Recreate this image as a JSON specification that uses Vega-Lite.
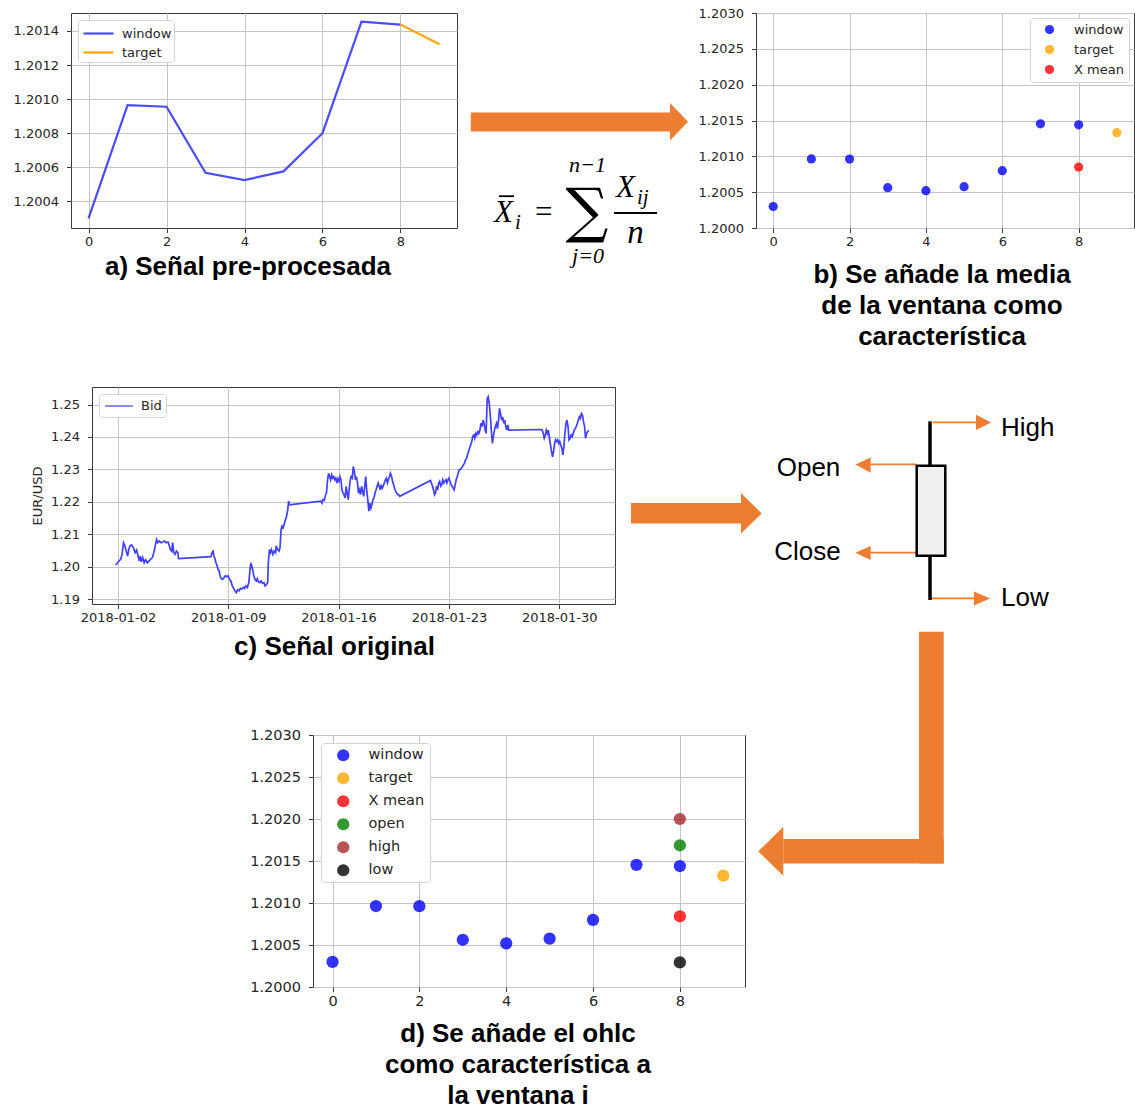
{
  "$schema": "https://vega.github.io/schema/vega-lite/v6.json",
  "padding": {"left": 0, "top": 6, "right": 0, "bottom": 0},
  "background": "white",
  "spacing": 0,
  "resolve": {"scale": {"color": "independent", "x": "independent", "y": "independent"}, "legend": {"color": "independent"}},
  "config": {
    "view": {"stroke": "#3a3a3a", "strokeWidth": 1},
    "axis": {"labelFont": "DejaVu Sans", "labelFontSize": 13, "labelColor": "#262626", "tickColor": "#3a3a3a", "tickSize": 4.5, "domain": false, "gridColor": "#c4c4c4", "gridWidth": 1, "titleFont": "DejaVu Sans", "titleFontWeight": "normal", "titleFontSize": 13, "titleColor": "#262626"},
    "axisY": {"labelPadding": 8},
    "axisX": {"labelPadding": 3},
    "legend": {"labelFont": "DejaVu Sans", "labelFontSize": 13, "labelColor": "#262626", "fillColor": "white", "strokeColor": "#d4d4d4", "cornerRadius": 3, "padding": 5, "title": null},
    "title": {"orient": "bottom", "anchor": "middle", "frame": "group", "font": "Liberation Sans", "fontSize": 26, "fontWeight": "bold", "color": "#000000", "lineHeight": 31, "baseline": "top"}
  },
  "vconcat": [
    {
      "hconcat": [
        {"width": 71, "height": 1, "view": {"stroke": null}, "data": {"values": []}, "mark": "point", "encoding": {}},
        {
          "width": 386, "height": 215,
          "title": {"text": "a) Señal pre-procesada", "dx": -16, "offset": 5},
          "data": {"values": [
            {"t": 0, "price": 1.2003, "series": "window"},
            {"t": 1, "price": 1.200964, "series": "window"},
            {"t": 2, "price": 1.200955, "series": "window"},
            {"t": 3, "price": 1.200568, "series": "window"},
            {"t": 4, "price": 1.200525, "series": "window"},
            {"t": 5, "price": 1.200576, "series": "window"},
            {"t": 6, "price": 1.2008, "series": "window"},
            {"t": 7, "price": 1.201454, "series": "window"},
            {"t": 8, "price": 1.201437, "series": "window"},
            {"t": 8, "price": 1.201437, "series": "target"},
            {"t": 9, "price": 1.201322, "series": "target"}
          ]},
          "mark": {"type": "line", "strokeWidth": 2.2},
          "encoding": {
            "x": {"field": "t", "type": "quantitative", "scale": {"domain": [-0.45, 9.45], "nice": false, "zero": false}, "axis": {"values": [0, 2, 4, 6, 8], "format": "d", "title": null}},
            "y": {"field": "price", "type": "quantitative", "scale": {"domain": [1.200244, 1.201505], "nice": false, "zero": false}, "axis": {"values": [1.2004, 1.2006, 1.2008, 1.201, 1.2012, 1.2014], "format": ".4f", "title": null}},
            "color": {"field": "series", "type": "nominal", "scale": {"domain": ["window", "target"], "range": ["#4b4bff", "#ffa500"]},
              "legend": {"orient": "top-left", "offset": 7, "symbolType": "M-1.5,0H1.5", "symbolSize": 400, "symbolStrokeWidth": 2.2, "symbolOffset": 7, "labelOffset": 12, "rowPadding": 0, "padding": 2}}
          }
        },
        {
          "width": 299, "height": 373,
          "view": {"stroke": null},
          "encoding": {
            "x": {"field": "x", "type": "quantitative", "scale": {"domain": [457, 756], "nice": false, "zero": false}, "axis": null},
            "y": {"field": "y", "type": "quantitative", "scale": {"domain": [13.3, 386.3], "nice": false, "zero": false, "reverse": true}, "axis": null}
          },
          "layer": [
            {"data": {"values": [{"x": 470.8, "x2": 670, "y": 112.7, "y2": 131.7}]}, "mark": {"type": "rect", "color": "#ED7D31"}, "encoding": {"x2": {"field": "x2"}, "y2": {"field": "y2"}}},
            {"data": {"values": [{"id": "h", "x": 670, "y": 103.3, "y2": 140.7}, {"id": "h", "x": 688, "y": 122, "y2": 122}]}, "mark": {"type": "area", "color": "#ED7D31"}, "encoding": {"y2": {"field": "y2"}, "detail": {"field": "id"}}},
            {"data": {"values": [{"x": 499, "x2": 514, "y": 196.5, "y2": 196.5}, {"x": 614, "x2": 657, "y": 213.3, "y2": 213.3}]}, "mark": {"type": "rule", "color": "black", "strokeWidth": 1.8}, "encoding": {"x2": {"field": "x2"}, "y2": {"field": "y2"}}},
            {"data": {"values": [{"x": 494, "y": 222, "s": "X"}, {"x": 616, "y": 197, "s": "X"}]}, "mark": {"type": "text", "font": "Liberation Serif", "fontStyle": "italic", "fontSize": 31, "align": "left", "baseline": "alphabetic"}, "encoding": {"text": {"field": "s"}}},
            {"data": {"values": [{"x": 635.5, "y": 243, "s": "n"}]}, "mark": {"type": "text", "font": "Liberation Serif", "fontStyle": "italic", "fontSize": 33, "align": "center", "baseline": "alphabetic"}, "encoding": {"text": {"field": "s"}}},
            {"data": {"values": [{"x": 515, "y": 229, "s": "i"}, {"x": 637, "y": 204, "s": "ij"}]}, "mark": {"type": "text", "font": "Liberation Serif", "fontStyle": "italic", "fontSize": 21, "align": "left", "baseline": "alphabetic"}, "encoding": {"text": {"field": "s"}}},
            {"data": {"values": [{"x": 587.5, "y": 172, "s": "n−1"}, {"x": 588, "y": 263, "s": "j=0"}]}, "mark": {"type": "text", "font": "Liberation Serif", "fontStyle": "italic", "fontSize": 22, "align": "center", "baseline": "alphabetic"}, "encoding": {"text": {"field": "s"}}},
            {"data": {"values": [{"x": 535, "y": 222, "s": "="}]}, "mark": {"type": "text", "font": "Liberation Serif", "fontSize": 31, "align": "left", "baseline": "alphabetic"}, "encoding": {"text": {"field": "s"}}},
            {"data": {"values": [{"x": 587, "y": 231, "s": "∑"}]}, "mark": {"type": "text", "font": "DejaVu Serif", "fontSize": 60, "align": "center", "baseline": "alphabetic"}, "encoding": {"text": {"field": "s"}}}
          ]
        },
        {
          "width": 378, "height": 215,
          "title": {"text": ["b) Se añade la media", "de la ventana como", "característica"], "dx": -3, "offset": 13},
          "data": {"values": [
            {"t": 0, "price": 1.2003, "series": "window"},
            {"t": 1, "price": 1.200964, "series": "window"},
            {"t": 2, "price": 1.200962, "series": "window"},
            {"t": 3, "price": 1.200562, "series": "window"},
            {"t": 4, "price": 1.20052, "series": "window"},
            {"t": 5, "price": 1.200576, "series": "window"},
            {"t": 6, "price": 1.2008, "series": "window"},
            {"t": 7, "price": 1.201454, "series": "window"},
            {"t": 8, "price": 1.20144, "series": "window"},
            {"t": 9, "price": 1.20133, "series": "target"},
            {"t": 8, "price": 1.20085, "series": "X mean"}
          ]},
          "mark": {"type": "point", "filled": true, "size": 85, "opacity": 0.8},
          "encoding": {
            "x": {"field": "t", "type": "quantitative", "scale": {"domain": [-0.45, 9.45], "nice": false, "zero": false}, "axis": {"values": [0, 2, 4, 6, 8], "format": "d", "title": null}},
            "y": {"field": "price", "type": "quantitative", "scale": {"domain": [1.2, 1.203], "nice": false, "zero": false}, "axis": {"values": [1.2, 1.2005, 1.201, 1.2015, 1.202, 1.2025, 1.203], "format": ".4f", "title": null}},
            "color": {"field": "series", "type": "nominal", "scale": {"domain": ["window", "target", "X mean"], "range": ["#0000ff", "#ffa500", "#ff0000"]},
              "legend": {"orient": "top-right", "offset": 5, "symbolType": "circle", "symbolSize": 85, "symbolOpacity": 0.8, "symbolOffset": 8, "labelOffset": 18, "rowPadding": 6, "padding": 5}}
          }
        }
      ],
      "spacing": 0,
      "bounds": "flush",
      "resolve": {"scale": {"color": "independent", "x": "independent", "y": "independent"}, "legend": {"color": "independent"}}
    },
    {
      "hconcat": [
        {"width": 92, "height": 1, "view": {"stroke": null}, "data": {"values": []}, "mark": "point", "encoding": {}},
        {
          "width": 523, "height": 217,
          "title": {"text": "c) Señal original", "dx": -19, "offset": 9},
          "data": {"values": [
            {"day": -0.15, "bid": 1.2005}, {"day": -0.04, "bid": 1.2012}, {"day": 0.07, "bid": 1.2018}, {"day": 0.17, "bid": 1.2023}, {"day": 0.26, "bid": 1.2038}, {"day": 0.35, "bid": 1.2074}, {"day": 0.44, "bid": 1.2064}, {"day": 0.52, "bid": 1.2048}, {"day": 0.61, "bid": 1.2033}, {"day": 0.68, "bid": 1.2053}, {"day": 0.76, "bid": 1.2064}, {"day": 0.87, "bid": 1.2067}, {"day": 0.98, "bid": 1.2058}, {"day": 1.09, "bid": 1.2043}, {"day": 1.18, "bid": 1.2051}, {"day": 1.27, "bid": 1.2033}, {"day": 1.35, "bid": 1.2018}, {"day": 1.42, "bid": 1.2033}, {"day": 1.48, "bid": 1.2015}, {"day": 1.57, "bid": 1.2028}, {"day": 1.66, "bid": 1.2012}, {"day": 1.75, "bid": 1.2021}, {"day": 1.86, "bid": 1.2012}, {"day": 1.97, "bid": 1.2018}, {"day": 2.07, "bid": 1.2023}, {"day": 2.18, "bid": 1.2028}, {"day": 2.27, "bid": 1.2043}, {"day": 2.36, "bid": 1.2064}, {"day": 2.45, "bid": 1.2084}, {"day": 2.53, "bid": 1.2074}, {"day": 2.62, "bid": 1.2079}, {"day": 2.73, "bid": 1.2074}, {"day": 2.84, "bid": 1.2076}, {"day": 2.95, "bid": 1.2079}, {"day": 3.06, "bid": 1.2074}, {"day": 3.17, "bid": 1.2076}, {"day": 3.23, "bid": 1.2069}, {"day": 3.32, "bid": 1.2053}, {"day": 3.41, "bid": 1.2048}, {"day": 3.47, "bid": 1.2074}, {"day": 3.54, "bid": 1.2043}, {"day": 3.62, "bid": 1.2038}, {"day": 3.71, "bid": 1.2048}, {"day": 3.8, "bid": 1.2043}, {"day": 3.84, "bid": 1.2025},
            {"day": 5.9, "bid": 1.2031}, {"day": 5.96, "bid": 1.2043}, {"day": 6.03, "bid": 1.2048}, {"day": 6.09, "bid": 1.2033}, {"day": 6.16, "bid": 1.2023}, {"day": 6.22, "bid": 1.2012}, {"day": 6.29, "bid": 1.2002}, {"day": 6.35, "bid": 1.1992}, {"day": 6.42, "bid": 1.1987}, {"day": 6.48, "bid": 1.1972}, {"day": 6.55, "bid": 1.1963}, {"day": 6.64, "bid": 1.1961}, {"day": 6.72, "bid": 1.1966}, {"day": 6.81, "bid": 1.1972}, {"day": 6.9, "bid": 1.1969}, {"day": 6.99, "bid": 1.1972}, {"day": 7.07, "bid": 1.1961}, {"day": 7.16, "bid": 1.1956}, {"day": 7.25, "bid": 1.1941}, {"day": 7.34, "bid": 1.1933}, {"day": 7.42, "bid": 1.1926}, {"day": 7.51, "bid": 1.192}, {"day": 7.6, "bid": 1.1929}, {"day": 7.69, "bid": 1.1926}, {"day": 7.77, "bid": 1.1933}, {"day": 7.86, "bid": 1.1931}, {"day": 7.95, "bid": 1.1936}, {"day": 8.03, "bid": 1.1933}, {"day": 8.12, "bid": 1.1941}, {"day": 8.21, "bid": 1.1936}, {"day": 8.3, "bid": 1.1951}, {"day": 8.36, "bid": 1.1982}, {"day": 8.43, "bid": 1.2012}, {"day": 8.49, "bid": 1.2002}, {"day": 8.56, "bid": 1.1987}, {"day": 8.62, "bid": 1.1972}, {"day": 8.69, "bid": 1.1961}, {"day": 8.78, "bid": 1.1956}, {"day": 8.84, "bid": 1.1963}, {"day": 8.91, "bid": 1.1953}, {"day": 9.0, "bid": 1.1951}, {"day": 9.08, "bid": 1.1956}, {"day": 9.17, "bid": 1.1949}, {"day": 9.26, "bid": 1.1951}, {"day": 9.34, "bid": 1.1941}, {"day": 9.43, "bid": 1.1946}, {"day": 9.5, "bid": 1.1951}, {"day": 9.54, "bid": 1.2012}, {"day": 9.61, "bid": 1.2053}, {"day": 9.67, "bid": 1.2043}, {"day": 9.74, "bid": 1.2053}, {"day": 9.83, "bid": 1.2038}, {"day": 9.91, "bid": 1.2048}, {"day": 10.0, "bid": 1.2043}, {"day": 10.04, "bid": 1.2064}, {"day": 10.13, "bid": 1.2053}, {"day": 10.22, "bid": 1.2048}, {"day": 10.28, "bid": 1.2058}, {"day": 10.35, "bid": 1.2115}, {"day": 10.41, "bid": 1.2125}, {"day": 10.48, "bid": 1.212}, {"day": 10.57, "bid": 1.2135}, {"day": 10.63, "bid": 1.2145}, {"day": 10.7, "bid": 1.2156}, {"day": 10.76, "bid": 1.2171}, {"day": 10.83, "bid": 1.2202}, {"day": 10.87, "bid": 1.2191},
            {"day": 12.88, "bid": 1.2202}, {"day": 12.95, "bid": 1.2196}, {"day": 13.01, "bid": 1.2207}, {"day": 13.1, "bid": 1.2205}, {"day": 13.17, "bid": 1.2222}, {"day": 13.23, "bid": 1.2227}, {"day": 13.3, "bid": 1.2268}, {"day": 13.36, "bid": 1.2288}, {"day": 13.43, "bid": 1.2278}, {"day": 13.49, "bid": 1.2268}, {"day": 13.56, "bid": 1.2283}, {"day": 13.62, "bid": 1.2273}, {"day": 13.69, "bid": 1.2278}, {"day": 13.76, "bid": 1.2268}, {"day": 13.82, "bid": 1.2273}, {"day": 13.89, "bid": 1.2258}, {"day": 13.95, "bid": 1.227}, {"day": 14.02, "bid": 1.2263}, {"day": 14.08, "bid": 1.2278}, {"day": 14.15, "bid": 1.2268}, {"day": 14.21, "bid": 1.2237}, {"day": 14.28, "bid": 1.2227}, {"day": 14.34, "bid": 1.2222}, {"day": 14.41, "bid": 1.2212}, {"day": 14.48, "bid": 1.2248}, {"day": 14.54, "bid": 1.2227}, {"day": 14.61, "bid": 1.2207}, {"day": 14.67, "bid": 1.2237}, {"day": 14.74, "bid": 1.2268}, {"day": 14.8, "bid": 1.2278}, {"day": 14.87, "bid": 1.2273}, {"day": 14.93, "bid": 1.2309}, {"day": 15.0, "bid": 1.2294}, {"day": 15.07, "bid": 1.2268}, {"day": 15.13, "bid": 1.2278}, {"day": 15.2, "bid": 1.2258}, {"day": 15.26, "bid": 1.2227}, {"day": 15.33, "bid": 1.2237}, {"day": 15.39, "bid": 1.2222}, {"day": 15.46, "bid": 1.2248}, {"day": 15.52, "bid": 1.2232}, {"day": 15.59, "bid": 1.2217}, {"day": 15.66, "bid": 1.2248}, {"day": 15.72, "bid": 1.2278}, {"day": 15.79, "bid": 1.2232}, {"day": 15.85, "bid": 1.2207}, {"day": 15.92, "bid": 1.2171}, {"day": 15.98, "bid": 1.2196}, {"day": 16.05, "bid": 1.2181}, {"day": 16.11, "bid": 1.2191}, {"day": 16.18, "bid": 1.2207}, {"day": 16.24, "bid": 1.2212}, {"day": 16.31, "bid": 1.2227}, {"day": 16.38, "bid": 1.2237}, {"day": 16.44, "bid": 1.2248}, {"day": 16.51, "bid": 1.2258}, {"day": 16.57, "bid": 1.2248}, {"day": 16.64, "bid": 1.2237}, {"day": 16.7, "bid": 1.2253}, {"day": 16.77, "bid": 1.2242}, {"day": 16.83, "bid": 1.2248}, {"day": 16.9, "bid": 1.2258}, {"day": 16.97, "bid": 1.2268}, {"day": 17.03, "bid": 1.2273}, {"day": 17.1, "bid": 1.2258}, {"day": 17.16, "bid": 1.2268}, {"day": 17.23, "bid": 1.2278}, {"day": 17.29, "bid": 1.2288}, {"day": 17.36, "bid": 1.2278}, {"day": 17.42, "bid": 1.2263}, {"day": 17.49, "bid": 1.2253}, {"day": 17.55, "bid": 1.2242}, {"day": 17.62, "bid": 1.2232}, {"day": 17.69, "bid": 1.2227}, {"day": 17.75, "bid": 1.2222}, {"day": 17.82, "bid": 1.2222}, {"day": 17.88, "bid": 1.2217},
            {"day": 19.83, "bid": 1.2266}, {"day": 19.89, "bid": 1.2258}, {"day": 19.96, "bid": 1.2248}, {"day": 20.02, "bid": 1.2237}, {"day": 20.09, "bid": 1.2222}, {"day": 20.15, "bid": 1.2227}, {"day": 20.22, "bid": 1.2248}, {"day": 20.28, "bid": 1.2237}, {"day": 20.35, "bid": 1.2258}, {"day": 20.41, "bid": 1.2263}, {"day": 20.48, "bid": 1.2248}, {"day": 20.55, "bid": 1.2253}, {"day": 20.61, "bid": 1.2268}, {"day": 20.68, "bid": 1.2258}, {"day": 20.74, "bid": 1.2263}, {"day": 20.81, "bid": 1.2268}, {"day": 20.87, "bid": 1.2258}, {"day": 20.94, "bid": 1.2268}, {"day": 21.0, "bid": 1.2273}, {"day": 21.07, "bid": 1.2263}, {"day": 21.14, "bid": 1.2253}, {"day": 21.2, "bid": 1.2248}, {"day": 21.27, "bid": 1.2242}, {"day": 21.33, "bid": 1.2237}, {"day": 21.4, "bid": 1.2253}, {"day": 21.46, "bid": 1.2268}, {"day": 21.53, "bid": 1.2278}, {"day": 21.59, "bid": 1.2288}, {"day": 21.66, "bid": 1.2299}, {"day": 21.72, "bid": 1.2299}, {"day": 21.79, "bid": 1.2304}, {"day": 21.86, "bid": 1.2309}, {"day": 21.92, "bid": 1.2314}, {"day": 21.99, "bid": 1.2319}, {"day": 22.05, "bid": 1.2329}, {"day": 22.12, "bid": 1.2334}, {"day": 22.18, "bid": 1.2345}, {"day": 22.25, "bid": 1.2355}, {"day": 22.31, "bid": 1.2365}, {"day": 22.38, "bid": 1.2375}, {"day": 22.45, "bid": 1.2386}, {"day": 22.51, "bid": 1.2401}, {"day": 22.58, "bid": 1.2406}, {"day": 22.64, "bid": 1.2396}, {"day": 22.71, "bid": 1.2411}, {"day": 22.77, "bid": 1.2406}, {"day": 22.84, "bid": 1.2416}, {"day": 22.9, "bid": 1.2411}, {"day": 22.97, "bid": 1.2421}, {"day": 23.03, "bid": 1.2442}, {"day": 23.1, "bid": 1.2432}, {"day": 23.17, "bid": 1.2452}, {"day": 23.23, "bid": 1.2442}, {"day": 23.3, "bid": 1.2421}, {"day": 23.36, "bid": 1.2411}, {"day": 23.43, "bid": 1.2518}, {"day": 23.49, "bid": 1.2524}, {"day": 23.56, "bid": 1.2503}, {"day": 23.62, "bid": 1.2472}, {"day": 23.69, "bid": 1.2421}, {"day": 23.76, "bid": 1.238}, {"day": 23.82, "bid": 1.2401}, {"day": 23.89, "bid": 1.2421}, {"day": 23.95, "bid": 1.2432}, {"day": 24.02, "bid": 1.2442}, {"day": 24.08, "bid": 1.2426}, {"day": 24.15, "bid": 1.2452}, {"day": 24.21, "bid": 1.2488}, {"day": 24.28, "bid": 1.2472}, {"day": 24.34, "bid": 1.2452}, {"day": 24.41, "bid": 1.2462}, {"day": 24.48, "bid": 1.2442}, {"day": 24.54, "bid": 1.2452}, {"day": 24.61, "bid": 1.2432}, {"day": 24.67, "bid": 1.2421}, {"day": 24.74, "bid": 1.2437}, {"day": 24.8, "bid": 1.2421},
            {"day": 26.86, "bid": 1.2423}, {"day": 26.92, "bid": 1.2421}, {"day": 26.99, "bid": 1.2411}, {"day": 27.05, "bid": 1.2396}, {"day": 27.12, "bid": 1.2406}, {"day": 27.18, "bid": 1.2421}, {"day": 27.25, "bid": 1.2411}, {"day": 27.31, "bid": 1.2421}, {"day": 27.38, "bid": 1.2396}, {"day": 27.45, "bid": 1.2375}, {"day": 27.51, "bid": 1.2355}, {"day": 27.58, "bid": 1.2339}, {"day": 27.64, "bid": 1.2355}, {"day": 27.71, "bid": 1.238}, {"day": 27.77, "bid": 1.2391}, {"day": 27.84, "bid": 1.2386}, {"day": 27.9, "bid": 1.2391}, {"day": 27.97, "bid": 1.238}, {"day": 28.03, "bid": 1.2386}, {"day": 28.1, "bid": 1.2375}, {"day": 28.17, "bid": 1.2365}, {"day": 28.23, "bid": 1.2345}, {"day": 28.3, "bid": 1.237}, {"day": 28.36, "bid": 1.2411}, {"day": 28.43, "bid": 1.2442}, {"day": 28.49, "bid": 1.2452}, {"day": 28.56, "bid": 1.2432}, {"day": 28.62, "bid": 1.2391}, {"day": 28.69, "bid": 1.2396}, {"day": 28.76, "bid": 1.2406}, {"day": 28.82, "bid": 1.2401}, {"day": 28.89, "bid": 1.2411}, {"day": 28.95, "bid": 1.2421}, {"day": 29.02, "bid": 1.2426}, {"day": 29.08, "bid": 1.2432}, {"day": 29.15, "bid": 1.2442}, {"day": 29.21, "bid": 1.2452}, {"day": 29.28, "bid": 1.2462}, {"day": 29.34, "bid": 1.2457}, {"day": 29.41, "bid": 1.2472}, {"day": 29.48, "bid": 1.2467}, {"day": 29.54, "bid": 1.2447}, {"day": 29.61, "bid": 1.2432}, {"day": 29.67, "bid": 1.2396}, {"day": 29.74, "bid": 1.2411}, {"day": 29.8, "bid": 1.2416}, {"day": 29.87, "bid": 1.2421}
          ]},
          "mark": {"type": "line", "strokeWidth": 1.7},
          "encoding": {
            "x": {"field": "day", "type": "quantitative", "scale": {"domain": [-1.65, 31.54], "nice": false, "zero": false}, "axis": {"values": [0, 7, 14, 21, 28], "title": null, "labelExpr": "timeFormat(datetime(2018, 0, 2 + datum.value), '%Y-%m-%d')"}},
            "y": {"field": "bid", "type": "quantitative", "scale": {"domain": [1.1885, 1.2554], "nice": false, "zero": false}, "axis": {"values": [1.19, 1.2, 1.21, 1.22, 1.23, 1.24, 1.25], "format": ".2f", "title": "EUR/USD", "titlePadding": 6}},
            "color": {"datum": "Bid", "type": "nominal", "scale": {"range": ["#4040ff"]},
              "legend": {"orient": "top-left", "offset": 7, "symbolType": "M-2,0H2", "symbolSize": 196, "symbolStrokeWidth": 1.2, "symbolOffset": 8, "labelOffset": 14, "padding": 4}}
          }
        },
        {
          "width": 520, "height": 336,
          "view": {"stroke": null},
          "encoding": {
            "x": {"field": "x", "type": "quantitative", "scale": {"domain": [615, 1135], "nice": false, "zero": false}, "axis": null},
            "y": {"field": "y", "type": "quantitative", "scale": {"domain": [386.3, 722.3], "nice": false, "zero": false, "reverse": true}, "axis": null}
          },
          "layer": [
            {"data": {"values": [
              {"x": 631, "x2": 741, "y": 502.3, "y2": 522.7},
              {"x": 919, "x2": 943.7, "y": 631, "y2": 722.3}
            ]}, "mark": {"type": "rect", "color": "#ED7D31"}, "encoding": {"x2": {"field": "x2"}, "y2": {"field": "y2"}}},
            {"data": {"values": [
              {"id": "a2", "x": 741, "y": 492.3, "y2": 532.7}, {"id": "a2", "x": 761.7, "y": 512.7, "y2": 512.7},
              {"id": "hi", "x": 976, "y": 414, "y2": 429.3}, {"id": "hi", "x": 991, "y": 421.7, "y2": 421.7},
              {"id": "lo", "x": 974, "y": 590.7, "y2": 604.7}, {"id": "lo", "x": 990, "y": 597.7, "y2": 597.7},
              {"id": "op", "x": 855.3, "y": 463.7, "y2": 463.7}, {"id": "op", "x": 870.7, "y": 456.7, "y2": 472},
              {"id": "cl", "x": 855.3, "y": 552, "y2": 552}, {"id": "cl", "x": 870.7, "y": 545.3, "y2": 559.3}
            ]}, "mark": {"type": "area", "color": "#ED7D31"}, "encoding": {"y2": {"field": "y2"}, "detail": {"field": "id"}}},
            {"data": {"values": [
              {"x": 933, "x2": 976, "y": 421.7, "y2": 421.7},
              {"x": 930, "x2": 974, "y": 597.7, "y2": 597.7},
              {"x": 870.7, "x2": 916, "y": 463.7, "y2": 463.7},
              {"x": 870.7, "x2": 916, "y": 552, "y2": 552}
            ]}, "mark": {"type": "rule", "color": "#ED7D31", "strokeWidth": 1.8}, "encoding": {"x2": {"field": "x2"}, "y2": {"field": "y2"}}},
            {"data": {"values": [{"x": 930, "x2": 930, "y": 420.7, "y2": 599.3}]}, "mark": {"type": "rule", "color": "black", "strokeWidth": 3.5}, "encoding": {"x2": {"field": "x2"}, "y2": {"field": "y2"}}},
            {"data": {"values": [{"x": 916.7, "x2": 945.3, "y": 465, "y2": 555}]}, "mark": {"type": "rect", "fill": "#f0f0f0", "stroke": "black", "strokeWidth": 2.5}, "encoding": {"x2": {"field": "x2"}, "y2": {"field": "y2"}}},
            {"data": {"values": [
              {"x": 1001, "y": 435, "s": "High"},
              {"x": 776.7, "y": 475, "s": "Open"},
              {"x": 774.3, "y": 559.3, "s": "Close"},
              {"x": 1001, "y": 605, "s": "Low"}
            ]}, "mark": {"type": "text", "font": "Liberation Sans", "fontSize": 26, "align": "left", "baseline": "alphabetic", "color": "black"}, "encoding": {"text": {"field": "s"}}}
          ]
        }
      ],
      "spacing": 0,
      "bounds": "flush",
      "resolve": {"scale": {"color": "independent", "x": "independent", "y": "independent"}, "legend": {"color": "independent"}}
    },
    {
      "hconcat": [
        {"width": 313, "height": 1, "view": {"stroke": null}, "data": {"values": []}, "mark": "point", "encoding": {}},
        {
          "width": 432, "height": 252,
          "title": {"text": ["d) Se añade el ohlc", "como característica a", "la ventana i"], "dx": -11, "offset": 13},
          "data": {"values": [
            {"t": 0, "price": 1.2003, "series": "window"},
            {"t": 1, "price": 1.200964, "series": "window"},
            {"t": 2, "price": 1.200962, "series": "window"},
            {"t": 3, "price": 1.200562, "series": "window"},
            {"t": 4, "price": 1.20052, "series": "window"},
            {"t": 5, "price": 1.200576, "series": "window"},
            {"t": 6, "price": 1.2008, "series": "window"},
            {"t": 7, "price": 1.201454, "series": "window"},
            {"t": 8, "price": 1.20144, "series": "window"},
            {"t": 9, "price": 1.201326, "series": "target"},
            {"t": 8, "price": 1.200842, "series": "X mean"},
            {"t": 8, "price": 1.201687, "series": "open"},
            {"t": 8, "price": 1.202, "series": "high"},
            {"t": 8, "price": 1.200293, "series": "low"}
          ]},
          "mark": {"type": "point", "filled": true, "size": 150, "opacity": 0.8},
          "encoding": {
            "x": {"field": "t", "type": "quantitative", "scale": {"domain": [-0.45, 9.5], "nice": false, "zero": false}, "axis": {"values": [0, 2, 4, 6, 8], "format": "d", "title": null, "labelFontSize": 14.5}},
            "y": {"field": "price", "type": "quantitative", "scale": {"domain": [1.2, 1.203], "nice": false, "zero": false}, "axis": {"values": [1.2, 1.2005, 1.201, 1.2015, 1.202, 1.2025, 1.203], "format": ".4f", "title": null, "labelFontSize": 14.5}},
            "color": {"field": "series", "type": "nominal", "scale": {"domain": ["window", "target", "X mean", "open", "high", "low"], "range": ["#0000ff", "#ffa500", "#ff0000", "#008000", "#a52a2a", "#000000"]},
              "legend": {"orient": "top-left", "offset": 8, "symbolType": "circle", "symbolSize": 150, "symbolOpacity": 0.8, "symbolOffset": 10, "labelOffset": 18, "labelFontSize": 14.5, "rowPadding": 8, "padding": 5}}
          }
        },
        {
          "width": 390, "height": 252,
          "view": {"stroke": null},
          "encoding": {
            "x": {"field": "x", "type": "quantitative", "scale": {"domain": [745, 1135], "nice": false, "zero": false}, "axis": null},
            "y": {"field": "y", "type": "quantitative", "scale": {"domain": [734.3, 986.3], "nice": false, "zero": false, "reverse": true}, "axis": null}
          },
          "layer": [
            {"data": {"values": [
              {"x": 919, "x2": 943.7, "y": 722.3, "y2": 862.7},
              {"x": 783.3, "x2": 943.7, "y": 838.3, "y2": 862.7}
            ]}, "mark": {"type": "rect", "color": "#ED7D31"}, "encoding": {"x2": {"field": "x2"}, "y2": {"field": "y2"}}},
            {"data": {"values": [
              {"id": "L", "x": 758.3, "y": 850.7, "y2": 850.7}, {"id": "L", "x": 783.3, "y": 826, "y2": 875}
            ]}, "mark": {"type": "area", "color": "#ED7D31"}, "encoding": {"y2": {"field": "y2"}, "detail": {"field": "id"}}}
          ]
        }
      ],
      "spacing": 0,
      "bounds": "flush",
      "resolve": {"scale": {"color": "independent", "x": "independent", "y": "independent"}, "legend": {"color": "independent"}}
    }
  ]
}
